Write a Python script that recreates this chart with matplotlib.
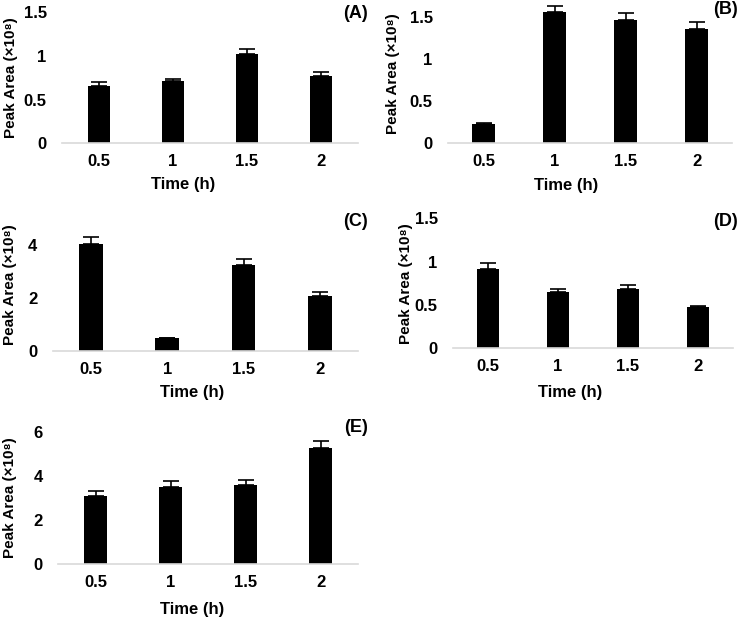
import numpy as np
import matplotlib
matplotlib.use("Agg")
import matplotlib.pyplot as plt

plt.rcParams['font.family'] = ['Liberation Sans', 'DejaVu Sans']
plt.rcParams['font.weight'] = 'bold'
plt.rcParams['axes.labelweight'] = 'bold'

# data (peak area x10^8)
time_labels = ['0.5', '1', '1.5', '2']
a_vals = [0.66, 0.71, 1.02, 0.77]
a_err = [0.04, 0.03, 0.06, 0.04]
b_vals = [0.22, 1.55, 1.46, 1.35]
b_err = [0.01, 0.08, 0.08, 0.09]
c_vals = [4.03, 0.47, 3.25, 2.07]
c_err = [0.27, 0.01, 0.21, 0.14]
d_vals = [0.92, 0.65, 0.69, 0.48]
d_err = [0.06, 0.035, 0.04, 0.01]
e_vals = [3.09, 3.51, 3.59, 5.28]
e_err = [0.24, 0.25, 0.24, 0.30]

W, H = 740, 622
fig = plt.figure(figsize=(W / 100, H / 100), dpi=100)

def panel(box, vals, err, ylim, yticks, letter, letter_pos, ylab_x, xlab_pos):
    l, t, r, b = box
    ax = fig.add_axes([l / W, 1 - b / H, (r - l) / W, (b - t) / H])
    x = np.arange(len(vals))
    ax.bar(x, vals, width=0.31, color='black', zorder=2)
    ax.errorbar(x, vals, yerr=[np.zeros(len(err)), err], fmt='none',
                ecolor='black', elinewidth=1.2, capsize=5.5, capthick=1.2, zorder=3)
    ax.set_xlim(-0.5, len(vals) - 0.5)
    ax.set_ylim(*ylim)
    ax.set_xticks(x)
    ax.set_xticklabels(time_labels)
    ax.set_yticks(yticks)
    ax.set_yticklabels(['{:g}'.format(v) for v in yticks])
    ax.tick_params(length=0, labelsize=12)
    ax.tick_params(axis='x', pad=8)
    ax.tick_params(axis='y', pad=11)
    for s in ['top', 'right', 'left']:
        ax.spines[s].set_visible(False)
    ax.spines['bottom'].set_color('#d9d9d9')
    ax.spines['bottom'].set_linewidth(1.2)
    ax.set_ylabel('Peak Area (×10⁸)', fontsize=11)
    ax.yaxis.set_label_coords((ylab_x - l) / (r - l), 0.5)
    ax.set_xlabel('Time (h)', fontsize=12)
    ax.xaxis.set_label_coords((xlab_pos[0] - l) / (r - l), (b - xlab_pos[1]) / (b - t))
    ax.text((letter_pos[0] - l) / (r - l), (b - letter_pos[1]) / (b - t), letter,
            transform=ax.transAxes, ha='right', va='center', fontsize=13, clip_on=False)
    return ax

panel((62, 12, 358, 143.3), a_vals, a_err, (0, 1.5), [0, 0.5, 1, 1.5],
      '(A)', (368, 13), 18, (183, 177))
panel((448, 4, 732, 142.7), b_vals, b_err, (0, 1.65), [0, 0.5, 1, 1.5],
      '(B)', (738, 10), 400, (566, 178))
panel((52.7, 218.7, 358, 350.7), c_vals, c_err, (0, 5), [0, 2, 4],
      '(C)', (368, 222), 17, (192, 385))
panel((453, 218.3, 733, 348.3), d_vals, d_err, (0, 1.5), [0, 0.5, 1, 1.5],
      '(D)', (738, 222), 413, (570, 385))
panel((58, 431.7, 358, 564.3), e_vals, e_err, (0, 6), [0, 2, 4, 6],
      '(E)', (368, 428), 17, (192, 602))

fig.savefig('out.png', dpi=100)
